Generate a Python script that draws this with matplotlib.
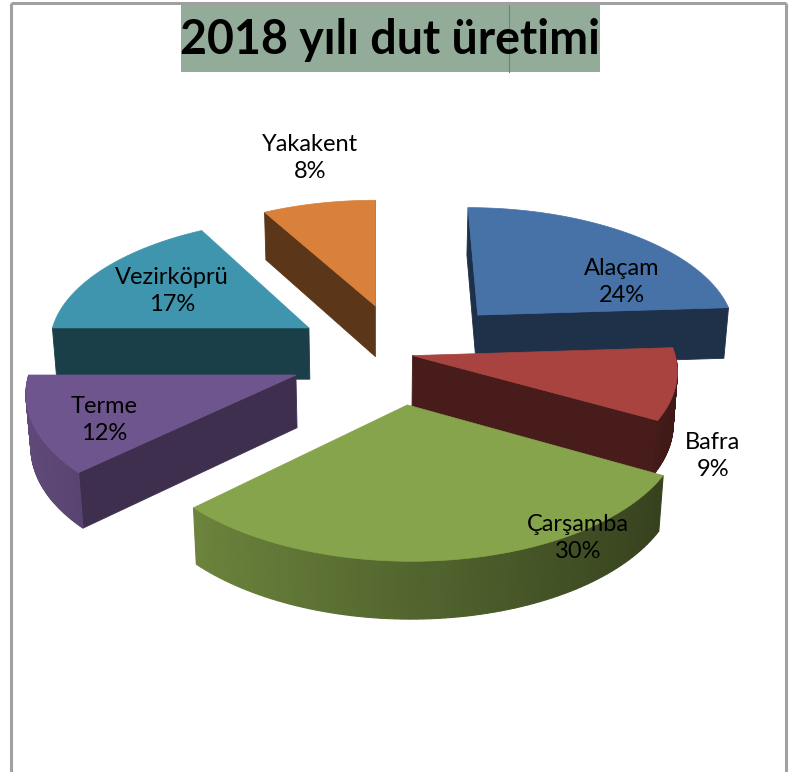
import numpy as np
import matplotlib.pyplot as plt
from matplotlib.patches import Polygon, Rectangle
from matplotlib.colors import to_rgb

# veriler
ilceler = ['Alaçam', 'Bafra', 'Çarşamba', 'Terme', 'Vezirköprü', 'Yakakent']
yuzdeler = [24, 9, 30, 12, 17, 8]

renkler = ['#4672A8', '#A8433F', '#86A44B', '#6F558D', '#3E95AD', '#D9803A']
patlama = [0.44, 0.04, 0.38, 0.43, 0.42, 0.41]
patlama_aci = [0, 0, -5, 0, 0, 0]   # patlama yonu duzeltmesi (derece)
# etiket merkezleri (piksel)
etiket_yer = [(622, 282), (713, 456), (578, 538), (104, 420), (172, 291), (310, 158)]

# 3B kamera ayarlari
EL = np.radians(29.0)
ce, se = np.cos(EL), np.sin(EL)
D = 8.0
F = 2100.0
UCAM, VCAM = 376.0, 354.5
X0 = 0.10
T = 0.23
cam = np.array([0.0, -D * ce, D * se])


def proj(X, Y, Z):
    d = D + Y * ce - Z * se
    return UCAM + F * X / d, VCAM - F * (Y * se + Z * ce) / d


def golge(renk, k):
    r = np.array(to_rgb(renk)) * k
    return tuple(np.clip(r, 0, 1))


fig = plt.figure(figsize=(8.03, 7.72), dpi=100)
ax = fig.add_axes([0, 0, 1, 1])
ax.set_xlim(0, 803)
ax.set_ylim(772, 0)
ax.axis('off')

dilimler = []
cum = 0
for i, p in enumerate(yuzdeler):
    a0 = np.radians(90 - cum * 3.6)
    a1 = np.radians(90 - (cum + p) * 3.6)
    cum += p
    m = (a0 + a1) / 2 + np.radians(patlama_aci[i])
    cx = X0 + patlama[i] * np.cos(m)
    cy = patlama[i] * np.sin(m)
    derinlik = cy + 0.5 * np.sin(m)
    dilimler.append((derinlik, i, a0, a1, cx, cy))

dilimler.sort(key=lambda s: -s[0])

for _, i, a0, a1, cx, cy in dilimler:
    renk = renkler[i]
    yuz = []
    # radyal duvarlar
    for a, n in [(a0, (-np.sin(a0), np.cos(a0))), (a1, (np.sin(a1), -np.cos(a1)))]:
        P = np.array([cx, cy, 0.0])
        nv = np.array([n[0], n[1], 0.0])
        if np.dot(P - cam, nv) < 0:
            pts = [(cx, cy, 0), (cx + np.cos(a), cy + np.sin(a), 0),
                   (cx + np.cos(a), cy + np.sin(a), -T), (cx, cy, -T)]
            k = 0.42 + 0.2 * max(0.0, n[0])
            yuz.append((pts, golge(renk, k), 0.6))
    # dis duvar
    th = np.linspace(a1, a0, 80)
    for j in range(len(th) - 1):
        tm = (th[j] + th[j + 1]) / 2
        if np.sin(tm) < 0:
            t1, t2 = th[j], th[j + 1]
            pts = [(cx + np.cos(t1), cy + np.sin(t1), 0), (cx + np.cos(t2), cy + np.sin(t2), 0),
                   (cx + np.cos(t2), cy + np.sin(t2), -T), (cx + np.cos(t1), cy + np.sin(t1), -T)]
            k = 0.62 - 0.25 * np.cos(tm)
            yuz.append((pts, golge(renk, k), 0.8))
    for pts, c, lw in yuz:
        xy = [proj(*q) for q in pts]
        ax.add_patch(Polygon(xy, closed=True, facecolor=c, edgecolor=c, lw=lw))
    # ust yuz
    ust = [proj(cx, cy, 0)] + [proj(cx + np.cos(t), cy + np.sin(t), 0) for t in th]
    ax.add_patch(Polygon(ust, closed=True, facecolor=renk, edgecolor=renk, lw=0.5))

for i, (x, y) in enumerate(etiket_yer):
    ax.text(x, y, f'{ilceler[i]}\n{yuzdeler[i]}%', ha='center', va='center',
            fontsize=17, family='Lato', color='black', linespacing=1.4)

# baslik kutusu
ax.add_patch(Rectangle((181, 5), 419, 67, facecolor='#93AC99', edgecolor='none'))
ax.plot([509, 509], [5, 72], color='#6E8574', lw=0.8)
ax.text(390, 40, '2018 yılı dut üretimi', ha='center', va='center',
        fontsize=33.5, fontweight='bold', family='Lato', color='black')

# cerceve
ax.plot([11, 786], [3, 3], color='#A0A0A0', lw=2.2, solid_capstyle='butt')
ax.plot([11, 11], [3, 772], color='#A0A0A0', lw=2.2, solid_capstyle='butt')
ax.plot([786, 786], [3, 772], color='#A0A0A0', lw=2.2, solid_capstyle='butt')

fig.savefig('out.png', dpi=100)
